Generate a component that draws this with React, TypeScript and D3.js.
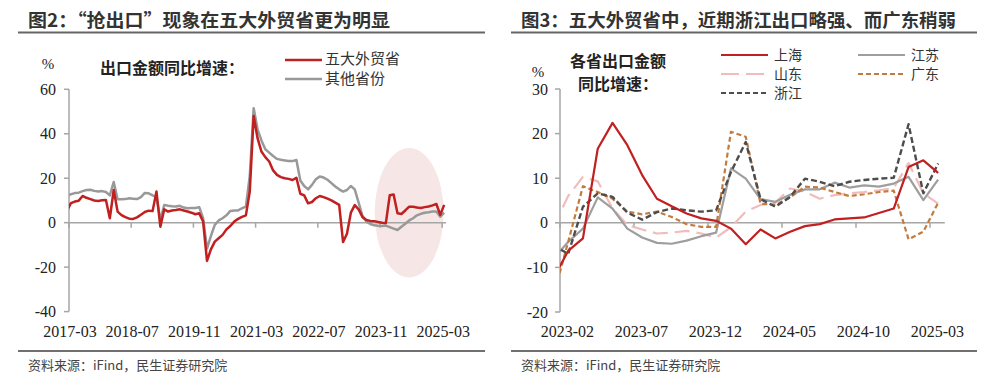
import React from "react";
import * as d3 from "d3";

function monthSeq(start: string, end: string): string[] {
  const out: string[] = [];
  let [y, m] = start.split("-").map(Number);
  const [ey, em] = end.split("-").map(Number);
  while (y < ey || (y === ey && m <= em)) {
    out.push(`${y}-${String(m).padStart(2, "0")}`);
    m++;
    if (m > 12) { m = 1; y++; }
  }
  return out;
}
function monthDiff(a: string, base: string): number {
  const [y, m] = a.split("-").map(Number);
  const [by, bm] = base.split("-").map(Number);
  return (y - by) * 12 + (m - bm);
}

// ---------- Left chart data ----------
const leftMonths = monthSeq("2017-02", "2025-03");
const top5Provinces = [
  5.5,
  8.8, 9.5, 9.9, 12.0, 11.2, 10.6, 10.0, 9.8, 10.1, 10.2,
  2.0, 14.7, 5.0, 3.4, 2.5, 1.8, 1.7, 2.4, 3.6, 4.8,
  5.4, 5.2, 14.0, -1.8, 6.0, 5.0, 5.5, 5.7, 6.0, 5.5,
  5.0, 4.5, 3.8, 4.2, 0.5, -17.2, -12.0, -8.5, -7.0, -5.5,
  -3.0, -1.5, 0.5, 1.7, 2.6, 3.3, 14.0, 48.0, 38.0, 32.0,
  29.5, 27.5, 23.5, 21.5, 20.5, 20.0, 19.7, 19.2, 20.2, 13.0,
  12.3, 8.7, 9.3, 11.0, 12.0, 11.5, 10.8, 10.0, 9.0, 8.0,
  -8.7, -5.0, 4.5, 7.9, 6.0, 2.5, 1.2, 0.8, 0.7, 0.3,
  0.0, -0.2, 12.3, 12.7, 4.2, 3.9, 5.5, 7.2, 7.2, 6.8,
  6.6, 7.0, 7.3, 7.8, 8.4, 3.5, 8.0,
];
const otherProvinces = [
  12.0,
  12.8, 13.3, 13.5, 14.2, 14.7, 14.8, 14.3, 14.0, 14.2, 13.8,
  12.3, 18.3, 10.5, 10.5, 10.6, 11.0, 10.8, 10.6, 11.5, 13.4,
  13.2, 12.3, 11.5, 1.2, 8.0, 7.6, 7.4, 7.3, 7.6, 6.8,
  6.5, 6.6, 6.6, 7.0, 2.0, -11.7, -6.0, -1.0, 1.0, 2.0,
  3.3, 5.3, 5.5, 5.5, 6.5, 7.2, 21.0, 51.5, 42.0, 37.0,
  33.0, 31.5, 30.0, 28.7, 28.3, 28.0, 27.7, 27.7, 28.2, 19.0,
  16.5, 15.0, 17.0, 19.5, 20.8, 20.3, 19.3, 17.8, 16.3, 15.0,
  14.0, 14.7, 16.5, 15.0, 9.0, 3.0, 0.5, -0.6, -1.2, -1.4,
  -1.5, -1.3, -2.0, -2.7, -3.3, -1.8, -0.5, 1.0, 2.0, 3.3,
  4.0, 4.5, 4.7, 5.0, 5.0, 2.7, 4.5,
];
const leftTickLabels = ["2017-03", "2018-07", "2019-11", "2021-03", "2022-07", "2023-11", "2025-03"];
const leftYTicks = [60, 40, 20, 0, -20, -40];

// ---------- Right chart data ----------
const rightMonths = monthSeq("2023-01", "2025-03");
const shanghai = [-12.5, -6.3, -3.5, 16.6, 22.4, 17.4, 10.7, 5.4, 3.7, 2.1, 1.0, 0.45, -1.3, -4.8, -1.5, -3.5, -2.0, -0.75, -0.3, 0.75, 1.0, 1.2, 2.2, 3.2, 12.5, 14.0, 11.2];
const jiangsu = [-8.0, -4.3, -1.3, 5.7, 3.2, -1.3, -3.3, -4.5, -4.7, -4.0, -3.0, -2.2, 12.2, 9.9, 5.3, 4.7, 6.3, 7.5, 7.5, 9.0, 7.9, 8.4, 8.1, 8.8, 10.3, 5.1, 9.7];
const shandong = [-1.0, 6.0, 10.3, 9.3, 3.2, -0.5, -1.5, -2.4, -2.2, -1.8, -2.4, -3.3, -1.0, 2.5, 4.0, 4.5, 7.7, 7.0, 5.4, 6.2, 6.6, 6.9, 7.3, 7.8, 13.4, 6.6, 4.3];
const guangdong = [-16.5, -4.3, 8.2, 6.9, 5.4, 2.5, 1.9, 2.5, 1.3, -0.3, -0.9, -0.9, 20.4, 19.3, 4.3, 4.0, 5.7, 8.1, 7.9, 6.9, 6.0, 6.4, 6.9, 7.2, -3.7, -2.0, 4.5];
const zhejiang = [-5.0, -7.0, 3.6, 6.6, 5.8, 2.3, 0.7, 2.4, 3.2, 2.8, 2.5, 2.8, 11.4, 18.1, 5.3, 3.6, 5.8, 9.9, 9.2, 8.2, 9.2, 9.6, 9.9, 10.1, 22.1, 6.6, 13.3];
const rightTickLabels = ["2023-02", "2023-07", "2023-12", "2024-05", "2024-10", "2025-03"];
const rightYTicks = [30, 20, 10, 0, -10, -20];

const SERIF = "'Liberation Serif', 'Times New Roman', serif";
const CJK = "'Noto Sans CJK SC', 'Noto Sans', sans-serif";
const AXIS = "#a6a6a6";

type Pt = [string, number];
const zip = (ms: string[], vs: number[]): Pt[] => ms.map((m, i) => [m, vs[i]] as Pt).filter((d) => d[1] !== undefined);

function LeftChart() {
  const xL = d3.scaleLinear().domain([0, 97]).range([69, 446.1]);
  const yL = d3.scaleLinear().domain([-40, 60]).range([311.6, 89.3]);
  const px = (m: string) => xL(monthDiff(m, "2017-03") + 0.5);
  const line = d3.line<Pt>().x((d) => px(d[0])).y((d) => yL(d[1]));
  const y0 = yL(0);
  return (
    <g>
      <text x={28} y={27} style={{ fontFamily: CJK }} fontWeight={700} fontSize={18} fill="#333" textLength={362} lengthAdjust="spacingAndGlyphs">图2：“抢出口”现象在五大外贸省更为明显</text>
      <line x1={18} x2={485} y1={32.5} y2={32.5} stroke="#666" strokeWidth={2} />
      <text x={48} y={69} style={{ fontFamily: SERIF }} fontSize={15} textAnchor="middle" fill="#222">%</text>
      <text x={100} y={74} style={{ fontFamily: CJK }} fontWeight={700} fontSize={16} fill="#222">出口金额同比增速：</text>
      <line x1={285} x2={322} y1={60} y2={60} stroke="#c0201f" strokeWidth={2.5} />
      <text x={325} y={64} style={{ fontFamily: CJK }} fontSize={15} fill="#333">五大外贸省</text>
      <line x1={285} x2={322} y1={79} y2={79} stroke="#999" strokeWidth={2.5} />
      <text x={325} y={84} style={{ fontFamily: CJK }} fontSize={15} fill="#333">其他省份</text>

      <ellipse cx={xL(monthDiff("2024-06", "2017-03") + 0.5)} cy={yL(4.5)} rx={34.5} ry={64.7} fill="#f7e6e6" />

      <line x1={69} x2={69} y1={yL(60)} y2={yL(-40)} stroke={AXIS} strokeWidth={1.5} />
      {leftYTicks.map((t) => (
        <g key={t}>
          <line x1={64} x2={69} y1={yL(t)} y2={yL(t)} stroke={AXIS} strokeWidth={1.5} />
          <text x={56} y={yL(t) + 5.5} style={{ fontFamily: SERIF }} fontSize={16} textAnchor="end" fill="#222">{t}</text>
        </g>
      ))}
      <line x1={69} x2={xL(97)} y1={y0} y2={y0} stroke={AXIS} strokeWidth={1.5} />
      {leftTickLabels.map((l) => {
        const x = xL(monthDiff(l, "2017-03"));
        return (
          <g key={l}>
            <line x1={x} x2={x} y1={y0} y2={y0 + 5} stroke={AXIS} strokeWidth={1.5} />
            <text x={x + 1} y={337} style={{ fontFamily: SERIF }} fontSize={16} textAnchor="middle" fill="#222">{l}</text>
          </g>
        );
      })}
      <g clipPath="url(#clipL)">
        <path d={line(zip(leftMonths, otherProvinces)) || ""} fill="none" stroke="#999" strokeWidth={2.5} strokeLinejoin="round" />
        <path d={line(zip(leftMonths, top5Provinces)) || ""} fill="none" stroke="#c0201f" strokeWidth={2.5} strokeLinejoin="round" />
      </g>

      <line x1={18} x2={485} y1={351} y2={351} stroke="#707070" strokeWidth={2} />
      <text x={28} y={370} style={{ fontFamily: CJK }} fontSize={13} fill="#444">资料来源：iFind，民生证券研究院</text>
    </g>
  );
}

function RightChart() {
  const xR = d3.scaleLinear().domain([0, 26]).range([560, 944.8]);
  const yR = d3.scaleLinear().domain([-20, 30]).range([312, 89]);
  const px = (m: string) => xR(monthDiff(m, "2023-02") + 0.55);
  const line = d3.line<Pt>().x((d) => px(d[0])).y((d) => yR(d[1]));
  const y0 = yR(0);
  const series = [
    { name: "山东", vals: shandong, color: "#f0bcbc", dash: "15,7", w: 2.2 },
    { name: "江苏", vals: jiangsu, color: "#9e9e9e", dash: undefined, w: 2.2 },
    { name: "广东", vals: guangdong, color: "#c47a3c", dash: "5,3", w: 2.2 },
    { name: "浙江", vals: zhejiang, color: "#4d4d4d", dash: "6,3", w: 2.4 },
    { name: "上海", vals: shanghai, color: "#c0201f", dash: undefined, w: 2.2 },
  ];
  const legend = [
    { name: "上海", x: 721, y: 55, color: "#c0201f", dash: undefined },
    { name: "山东", x: 721, y: 74, color: "#f0bcbc", dash: "18,7" },
    { name: "浙江", x: 721, y: 93, color: "#4d4d4d", dash: "5,3" },
    { name: "江苏", x: 858, y: 55, color: "#9e9e9e", dash: undefined },
    { name: "广东", x: 858, y: 74, color: "#c47a3c", dash: "5,3" },
  ];
  return (
    <g>
      <text x={521} y={27} style={{ fontFamily: CJK }} fontWeight={700} fontSize={18} fill="#333" textLength={435} lengthAdjust="spacingAndGlyphs">图3：五大外贸省中，近期浙江出口略强、而广东稍弱</text>
      <line x1={511} x2={977} y1={32.5} y2={32.5} stroke="#666" strokeWidth={2} />
      <text x={538} y={77} style={{ fontFamily: SERIF }} fontSize={15} textAnchor="middle" fill="#222">%</text>
      <text x={570} y={67} style={{ fontFamily: CJK }} fontWeight={700} fontSize={16} fill="#222">各省出口金额</text>
      <text x={578} y={90} style={{ fontFamily: CJK }} fontWeight={700} fontSize={16} fill="#222">同比增速：</text>
      {legend.map((l) => (
        <g key={l.name}>
          <line x1={l.x} x2={l.x + 47} y1={l.y} y2={l.y} stroke={l.color} strokeWidth={2.2} strokeDasharray={l.dash} />
          <text x={l.x + 53} y={l.y + 5} style={{ fontFamily: CJK }} fontSize={14} fill="#333">{l.name}</text>
        </g>
      ))}

      <line x1={560} x2={560} y1={yR(30)} y2={yR(-20)} stroke={AXIS} strokeWidth={1.5} />
      {rightYTicks.map((t) => (
        <g key={t}>
          <line x1={555} x2={560} y1={yR(t)} y2={yR(t)} stroke={AXIS} strokeWidth={1.5} />
          <text x={548} y={yR(t) + 5.5} style={{ fontFamily: SERIF }} fontSize={16} textAnchor="end" fill="#222">{t}</text>
        </g>
      ))}
      <line x1={560} x2={xR(26)} y1={y0} y2={y0} stroke={AXIS} strokeWidth={1.5} />
      {rightTickLabels.map((l) => {
        const t = monthDiff(l, "2023-02");
        const x = xR(t);
        return (
          <g key={l}>
            <line x1={x} x2={x} y1={y0} y2={y0 + 5} stroke={AXIS} strokeWidth={1.5} />
            <text x={xR(t + 0.5)} y={337} style={{ fontFamily: SERIF }} fontSize={16} textAnchor="middle" fill="#222">{l}</text>
          </g>
        );
      })}
      <g clipPath="url(#clipR)">
        {series.map((s) => (
          <path key={s.name} d={line(zip(rightMonths, s.vals)) || ""} fill="none" stroke={s.color} strokeWidth={s.w} strokeDasharray={s.dash} strokeLinejoin="round" />
        ))}
      </g>

      <line x1={511} x2={977} y1={351} y2={351} stroke="#707070" strokeWidth={2} />
      <text x={521} y={370} style={{ fontFamily: CJK }} fontSize={13} fill="#444">资料来源：iFind，民生证券研究院</text>
    </g>
  );
}

export default function App() {
  return (
    <svg width={987} height={378} viewBox="0 0 987 378" style={{ position: "absolute", left: 0, top: 0, background: "#fff" }}>
      <defs>
        <clipPath id="clipL"><rect x={69} y={60} width={378} height={270} /></clipPath>
        <clipPath id="clipR"><rect x={560} y={60} width={386} height={270} /></clipPath>
      </defs>
      <rect x={0} y={0} width={987} height={378} fill="#fff" />
      <LeftChart />
      <RightChart />
    </svg>
  );
}
